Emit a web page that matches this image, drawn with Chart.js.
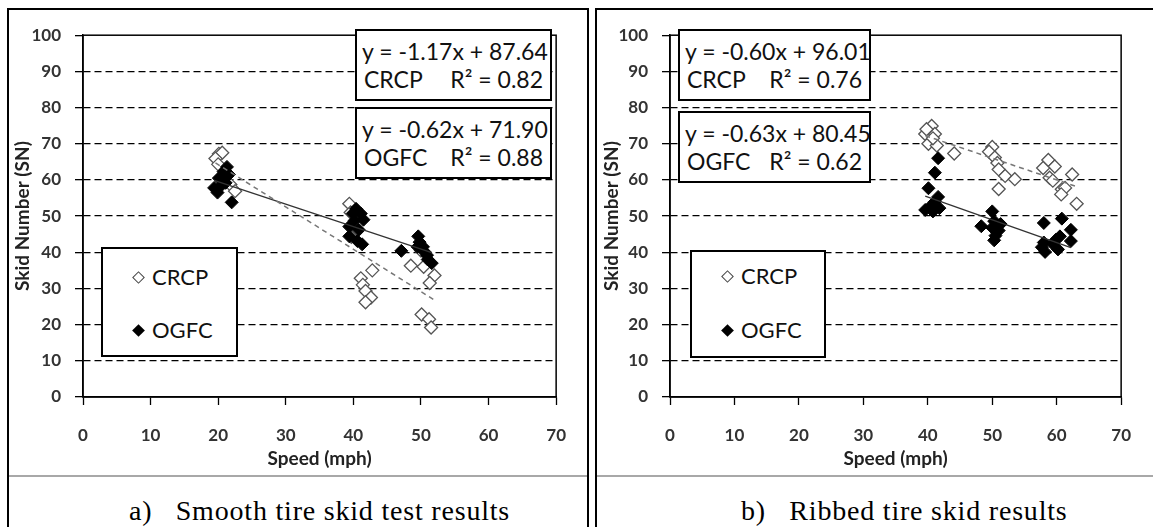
<!DOCTYPE html>
<html>
<head>
<meta charset="utf-8">
<script src="https://cdn.jsdelivr.net/npm/chart.js@4.4.1/dist/chart.umd.min.js"></script>
<style>
body { margin:0; width:1153px; height:527px; overflow:hidden; background:#fff; position:relative; font-family:Lato, sans-serif; }
.panel { position:absolute; top:8px; height:540px; border:2px solid #000; box-sizing:border-box; }
.rule { position:absolute; top:475px; height:2px; background:#a8a8a8; }
canvas { position:absolute; }
.eq { position:absolute; border:2px solid #000; background:#fff; box-sizing:border-box; font-size:23px; line-height:28px; padding:6px 7px 0 5px; color:#111; white-space:nowrap; }
.eq .row { display:flex; justify-content:space-between; }
.eq .row span:first-child { margin-left:2px; }
.key { position:absolute; border:2px solid #000; background:#fff; box-sizing:border-box; font-size:22px; color:#111; }
.key .item { position:absolute; left:31px; height:28px; line-height:28px; display:flex; align-items:center; }
.mark { width:9px; height:9px; transform:rotate(45deg); box-sizing:border-box; margin-right:9px; }
.caption { position:absolute; top:496px; line-height:30px; font-family:'Liberation Serif', serif; font-size:28px; letter-spacing:0.8px; white-space:pre; color:#000; }
</style>
</head>
<body>
<div class="panel" style="left:7px; width:582px;"></div>
<div class="panel" style="left:595px; width:562px;"></div>
<div class="rule" style="left:9px; width:578px;"></div>
<div class="rule" style="left:597px; width:556px;"></div>

<canvas id="smooth" width="576" height="463" style="left:10px; top:11px;"></canvas>
<canvas id="ribbed" width="553" height="463" style="left:598px; top:11px;"></canvas>

<div class="caption" style="left:129px;">a)   Smooth tire skid test results</div>
<div class="caption" style="left:741px;">b)   Ribbed tire skid results</div>

<script>
// Smooth tire: speed (mph) vs skid number
const smoothCrcpSpeed = [20.1, 20.6, 19.6, 20.0, 21.2, 21.8, 22.5, 39.4, 39.6, 39.7, 41.1, 41.4, 41.8, 42.6, 41.8, 42.8, 48.5, 50.4, 50.0, 50.1, 51.2, 51.5, 52.0, 51.3];
const smoothCrcpSN    = [67.2, 67.5, 65.9, 64.3, 62.0, 58.7, 56.9, 53.4, 51.0, 44.3, 32.8, 31.0, 29.3, 27.5, 26.2, 35.0, 36.3, 36.0, 40.5, 22.8, 21.5, 19.2, 33.6, 31.5];
const smoothOgfcSpeed = [19.4, 19.9, 20.1, 20.8, 21.3, 21.1, 22.0, 20.5, 21.6, 40.4, 41.1, 39.9, 39.4, 40.8, 39.4, 40.6, 41.3, 40.2, 41.5, 47.1, 49.6, 49.8, 50.3, 50.6, 51.0, 51.6, 49.5, 50.9];
const smoothOgfcSN    = [57.8, 56.5, 60.5, 62.3, 63.6, 59.2, 53.8, 58.5, 61.5, 52.0, 50.7, 50.7, 47.1, 46.2, 44.4, 43.1, 42.2, 48.8, 49.0, 40.4, 44.4, 42.8, 41.5, 40.0, 38.0, 37.0, 41.5, 39.2];

// Ribbed tire
const ribbedCrcpSpeed = [40.6, 39.6, 41.1, 40.1, 41.4, 40.8, 39.8, 44.1, 50.0, 49.5, 50.4, 50.8, 51.0, 52.0, 53.5, 51.0, 58.7, 59.7, 57.9, 58.9, 59.4, 60.8, 61.3, 62.4, 63.1, 60.7];
const ribbedCrcpSN    = [74.9, 72.7, 72.7, 70.0, 69.5, 71.5, 74.0, 67.3, 69.1, 67.8, 66.2, 64.7, 62.9, 61.1, 60.2, 57.5, 65.5, 63.7, 63.3, 60.6, 59.8, 57.4, 57.8, 61.5, 53.4, 56.0];
const ribbedOgfcSpeed = [41.6, 41.1, 40.1, 41.6, 41.1, 39.6, 40.8, 41.8, 40.3, 48.3, 50.0, 50.3, 51.3, 50.0, 50.5, 50.3, 51.0, 58.0, 58.0, 57.7, 58.2, 59.4, 60.2, 60.5, 60.8, 62.2, 62.2, 59.9];
const ribbedOgfcSN    = [66.0, 62.0, 57.7, 55.3, 54.0, 51.7, 51.3, 52.2, 52.5, 47.2, 51.3, 48.6, 47.8, 46.8, 44.6, 43.3, 46.0, 48.1, 42.7, 41.4, 40.1, 42.3, 40.8, 44.4, 49.3, 46.2, 43.1, 43.5];

// linear fits, [CRCP, OGFC]
const surfaces = ['CRCP', 'OGFC'];
const smoothSlopes = [-1.17, -0.62];
const smoothIntercepts = [87.64, 71.90];
const smoothR2 = [0.82, 0.88];
const smoothSpans = [[19.6, 52.0], [19.4, 51.6]];
const ribbedSlopes = [-0.60, -0.63];
const ribbedIntercepts = [96.01, 80.45];
const ribbedR2 = [0.76, 0.62];
const ribbedSpans = [[39.6, 63.1], [39.6, 62.2]];

const xTicks = [0, 70, 10];   // min, max, step
const yTicks = [0, 100, 10];

Chart.defaults.font.family = 'Lato, sans-serif';

const zip = (xs, ys) => xs.map((x, i) => ({ x: x, y: ys[i] }));

// box around the plot area (top and right edges)
const plotFrame = {
  id: 'plotFrame',
  afterDraw(chart) {
    const a = chart.chartArea, ctx = chart.ctx;
    ctx.save();
    ctx.strokeStyle = '#000';
    ctx.lineWidth = 1.5;
    ctx.strokeRect(a.left, a.top, a.right - a.left, a.bottom - a.top);
    ctx.restore();
  }
};

function skidChart(id, crcp, ogfc, slopes, intercepts, spans, yWidth, titleGap, padRight) {
  const fit = i => spans[i].map(x => ({ x: x, y: slopes[i] * x + intercepts[i] }));
  const tickFont = { size: 17, weight: 'bold' };
  const titleFont = { size: 19, weight: 'bold' };
  return new Chart(id, {
    type: 'scatter',
    data: {
      datasets: [
        { label: 'CRCP fit', type: 'line', data: fit(0), showLine: true, fill: false,
          borderColor: '#777', borderWidth: 1.5, borderDash: [5, 4], pointRadius: 0, order: 0 },
        { label: 'OGFC fit', type: 'line', data: fit(1), showLine: true, fill: false,
          borderColor: '#333', borderWidth: 1.3, pointRadius: 0, order: 0 },
        { label: 'OGFC', data: ogfc, pointStyle: 'rectRot', pointRadius: 6.5,
          pointBackgroundColor: '#000', pointBorderColor: '#000', pointBorderWidth: 1, order: 1 },
        { label: 'CRCP', data: crcp, pointStyle: 'rectRot', pointRadius: 6.5,
          pointBackgroundColor: '#fff', pointBorderColor: '#555', pointBorderWidth: 1.3, order: 2 }
      ]
    },
    options: {
      responsive: false,
      animation: false,
      devicePixelRatio: 1,
      layout: { padding: { top: 12, right: padRight, left: 0, bottom: 0 } },
      plugins: { legend: { display: false }, tooltip: { enabled: false } },
      scales: {
        x: {
          type: 'linear', min: xTicks[0], max: xTicks[1],
          afterFit: s => { s.height = 77; },
          ticks: { stepSize: xTicks[2], padding: 20, color: '#333', font: tickFont },
          grid: { drawOnChartArea: false, tickLength: 8, tickColor: '#000', tickWidth: 1.3 },
          border: { color: '#000', width: 1.5 },
          title: { display: true, text: 'Speed (mph)', color: '#222', font: titleFont,
                   padding: { top: 0, bottom: 4 } }
        },
        y: {
          type: 'linear', min: yTicks[0], max: yTicks[1],
          afterFit: s => { s.width = yWidth; },
          ticks: { stepSize: yTicks[2], padding: 14, color: '#333', font: tickFont },
          grid: {
            color: c => (c.tick && (c.tick.value === yTicks[0] || c.tick.value === yTicks[1])) ? 'rgba(0,0,0,0)' : '#000',
            lineWidth: 1.3, tickLength: 8, tickColor: '#000', tickWidth: 1.3
          },
          border: { color: '#000', width: 1.5, dash: [7, 4] },
          title: { display: true, text: 'Skid Number (SN)', color: '#222', font: titleFont,
                   padding: { top: titleGap, bottom: 0 } }
        }
      }
    },
    plugins: [plotFrame]
  });
}

skidChart('smooth', zip(smoothCrcpSpeed, smoothCrcpSN), zip(smoothOgfcSpeed, smoothOgfcSN),
          smoothSlopes, smoothIntercepts, smoothSpans, 73, 1, 20);
skidChart('ribbed', zip(ribbedCrcpSpeed, ribbedCrcpSN), zip(ribbedOgfcSpeed, ribbedOgfcSN),
          ribbedSlopes, ribbedIntercepts, ribbedSpans, 72, 2, 10);

// equation boxes
function eqBox(left, top, width, slope, intercept, r2, name) {
  const d = document.createElement('div');
  d.className = 'eq';
  d.style.left = left + 'px';
  d.style.top = top + 'px';
  d.style.width = width + 'px';
  d.style.height = '72px';
  d.innerHTML = '<div>y = ' + slope.toFixed(2) + 'x + ' + intercept.toFixed(2) + '</div>' +
    '<div class="row"><span>' + name + '</span><span>R\u00B2 = ' + r2.toFixed(2) + '</span></div>';
  document.body.appendChild(d);
}
eqBox(355, 29, 197, smoothSlopes[0], smoothIntercepts[0], smoothR2[0], surfaces[0]);
eqBox(355, 107, 197, smoothSlopes[1], smoothIntercepts[1], smoothR2[1], surfaces[1]);
eqBox(678, 29, 193, ribbedSlopes[0], ribbedIntercepts[0], ribbedR2[0], surfaces[0]);
eqBox(678, 111, 193, ribbedSlopes[1], ribbedIntercepts[1], ribbedR2[1], surfaces[1]);

// series keys
function keyBox(left, top, width, height, rowTops) {
  const d = document.createElement('div');
  d.className = 'key';
  d.style.cssText = 'left:' + left + 'px;top:' + top + 'px;width:' + width + 'px;height:' + height + 'px;';
  const fills = ['background:#fff;border:1.5px solid #444;', 'background:#000;'];
  surfaces.forEach((s, i) => {
    const it = document.createElement('div');
    it.className = 'item';
    it.style.top = rowTops[i] + 'px';
    it.innerHTML = '<span class="mark" style="' + fills[i] + '"></span><span>' + s + '</span>';
    d.appendChild(it);
  });
  document.body.appendChild(d);
}
keyBox(101, 247, 137, 110, [14, 67]);
keyBox(690, 250, 136, 108, [10, 64]);
</script>
</body>
</html>
